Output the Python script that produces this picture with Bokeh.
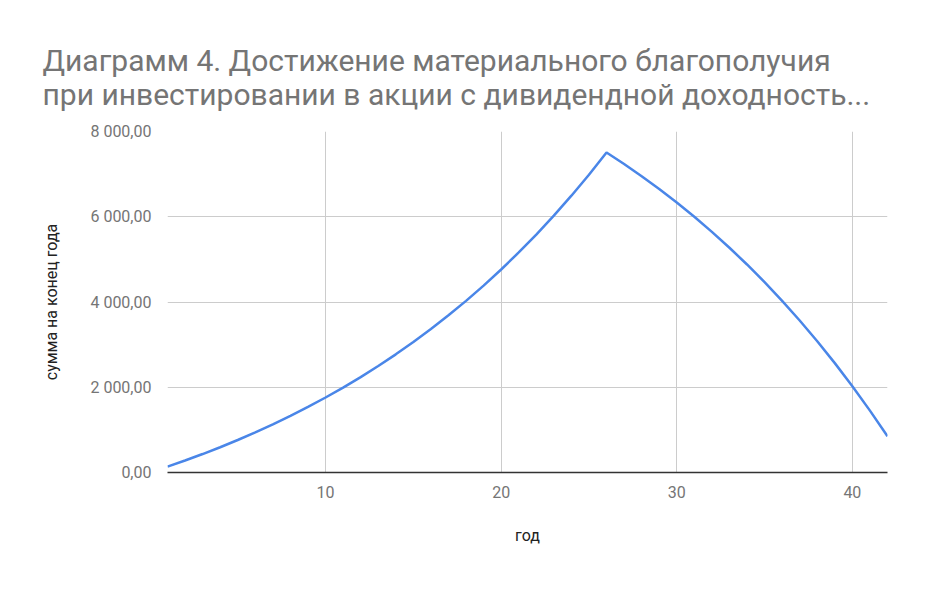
from bokeh.plotting import figure
from bokeh.models import Range1d, FixedTicker
from bokeh.embed import file_html
from bokeh.resources import INLINE

title_lines = ["Диаграмм 4. Достижение материального благополучия",
               "при инвестировании в акции с дивидендной доходность..."]
x_label = "год"
y_label = "сумма на конец года"

years = list(range(1, 43))
amounts = [137, 281, 433, 593, 762, 941, 1129, 1328, 1538, 1759,
           1992, 2238, 2498, 2772, 3061, 3366, 3688, 4027, 4385, 4763,
           5162, 5582, 6026, 6494, 6987, 7508, 7237, 6952, 6651, 6334,
           5999, 5646, 5273, 4880, 4465, 4028, 3566, 3079, 2566, 2024,
           1452, 849]

y_ticks = [0, 2000, 4000, 6000, 8000]
y_tick_labels = ["0,00", "2 000,00", "4 000,00", "6 000,00", "8 000,00"]
x_ticks = [10, 20, 30, 40]

FONT = "Roboto"

p = figure(width=928, height=583, output_backend="svg", toolbar_location=None,
           x_range=Range1d(1, 42), y_range=Range1d(0, 8000),
           min_border_left=167, min_border_right=41, min_border_top=131,
           min_border_bottom=111)

p.title.text = "\n".join(title_lines)
p.title.text_font = FONT
p.title.text_font_size = "30px"
p.title.text_font_style = "normal"
p.title.text_color = "#757575"
p.title.text_line_height = 0.95
p.title.align = "left"
p.title.offset = -125
p.title.standoff = 40

p.outline_line_color = None
p.background_fill_color = "white"
p.border_fill_color = "white"

p.line(years, amounts, line_color="#4a86e8", line_width=2.5)

p.xaxis.ticker = FixedTicker(ticks=x_ticks)
p.yaxis.ticker = FixedTicker(ticks=y_ticks)
p.yaxis.major_label_overrides = {t: l for t, l in zip(y_ticks, y_tick_labels)}

for ax in (p.xaxis, p.yaxis):
    ax.major_tick_line_color = None
    ax.minor_tick_line_color = None
    ax.major_label_text_font = FONT
    ax.major_label_text_font_size = "16px"
    ax.major_label_text_color = "#757575"
    ax.axis_label_text_font = FONT
    ax.axis_label_text_font_size = "16px"
    ax.axis_label_text_font_style = "normal"
    ax.axis_label_text_color = "#222222"

p.xaxis.axis_label = x_label
p.yaxis.axis_label = y_label
p.xaxis.axis_line_color = "#333333"
p.xaxis.axis_line_width = 1.5
p.yaxis.axis_line_color = None
p.yaxis.major_label_standoff = 10
p.xaxis.major_label_standoff = 7
p.yaxis.axis_label_standoff = 26
p.xaxis.axis_label_standoff = 25

p.xgrid.grid_line_color = "#cccccc"
p.ygrid.grid_line_color = "#cccccc"
p.xgrid.grid_line_width = 1
p.ygrid.grid_line_width = 1

open("out.html", "w").write(file_html(p, INLINE))
